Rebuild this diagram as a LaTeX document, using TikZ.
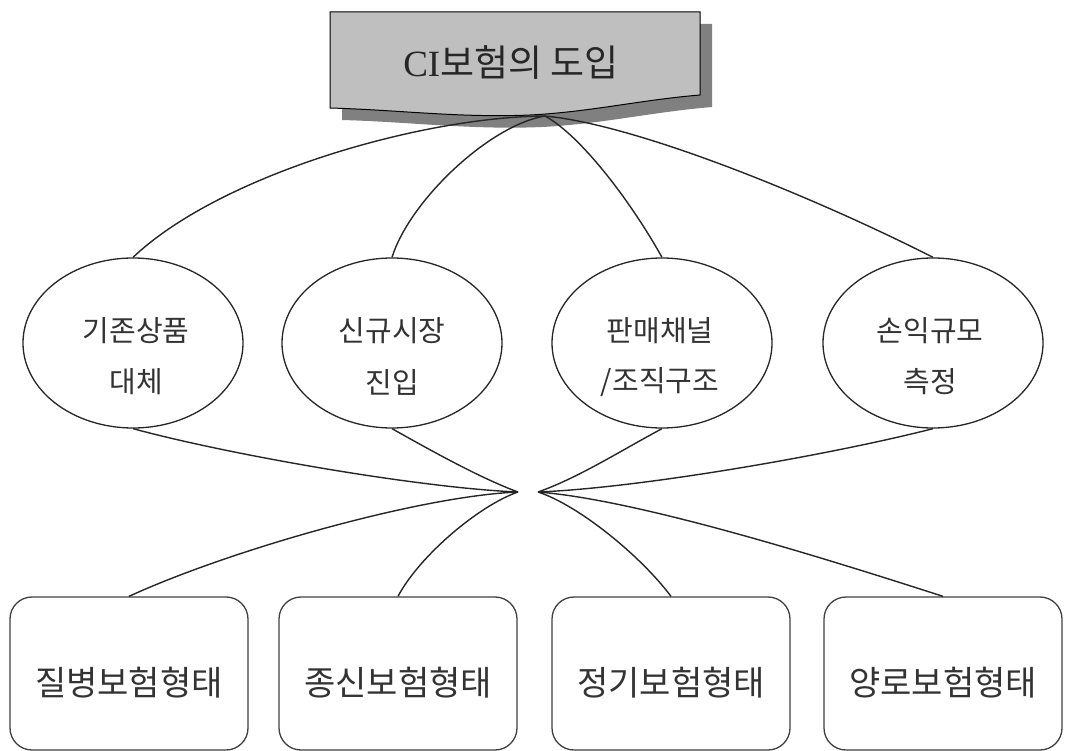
\documentclass[tikz,border=0pt]{standalone}
\usepackage{fontspec}
\setmainfont{Liberation Serif}
\newfontfamily\kr{Noto Sans CJK KR}
\usetikzlibrary{shapes.geometric}
\begin{document}
\begin{tikzpicture}[x=1pt,y=-1pt,
  oval/.style={ellipse, draw=black!85, line width=1.3pt, minimum width=220pt, minimum height=170pt, inner sep=0pt},
  kbox/.style={draw=black!75, line width=1.3pt, rounded corners=22pt, minimum width=238pt, minimum height=153pt, inner sep=0pt},
  etext/.style={font=\kr\fontsize{29}{34}\selectfont, text=black!80, inner sep=0pt},
  btext/.style={font=\kr\fontsize{34}{38}\selectfont, text=black!80, inner sep=0pt},
  link/.style={draw=black!85, line width=1.4pt}]
\useasboundingbox (0,0) rectangle (1069,751);
% banner
\path[fill=black!50] (342,24) -- (712,24) -- (712,107) .. controls (652,112) and (602,124) .. (542,127) .. controls (472,130) and (412,122) .. (342,120) -- cycle;
\path[fill=black!25, draw=black, line width=1pt] (330,12) -- (700,12) -- (700,95) .. controls (640,100) and (590,112) .. (530,115) .. controls (460,118) and (400,110) .. (330,108) -- cycle;
\node[font=\fontsize{37}{41}\selectfont, text=black!85, inner sep=0pt] (title) at (511,63) {CI{\kr 보험의 도입}};
\coordinate (top) at (545,116);
% ellipses
\node[oval] (e1) at (133,343) {};
\node[oval] (e2) at (392,343) {};
\node[oval] (e3) at (662,343) {};
\node[oval] (e4) at (933,343) {};
\node[etext] (t1a) at (136,331) {기존상품};
\node[etext] (t1b) at (136,382) {대체};
\node[etext] (t2a) at (392,331) {신규시장};
\node[etext] (t2b) at (392,382) {진입};
\node[etext] (t3a) at (660,331) {판매채널};
\node[etext] (t3b) at (660,382) {/조직구조};
\node[etext] (t4a) at (930,331) {손익규모};
\node[etext] (t4b) at (930,382) {측정};
% boxes
\node[kbox] (b1) at (129,673.5) {};
\node[kbox] (b2) at (398,673.5) {};
\node[kbox] (b3) at (671,673.5) {};
\node[kbox] (b4) at (943,673.5) {};
\node[btext] (s1) at (129,683) {질병보험형태};
\node[btext] (s2) at (398,683) {종신보험형태};
\node[btext] (s3) at (671,683) {정기보험형태};
\node[btext] (s4) at (943,683) {양로보험형태};
\coordinate (hubL) at (518,492);
\coordinate (hubR) at (538,492);
% connectors top
\draw[link] (top) .. controls (420,117) and (220,175) .. (e1.north);
\draw[link] (top) .. controls (490,125) and (410,200) .. (e2.north);
\draw[link] (top) .. controls (580,135) and (630,200) .. (e3.north);
\draw[link] (top) .. controls (640,125) and (820,200) .. (e4.north);
% connectors middle
\draw[link] (e1.south) .. controls (230,455) and (420,488) .. (hubL);
\draw[link] (e2.south) .. controls (430,450) and (480,478) .. (hubL);
\draw[link] (e3.south) .. controls (622,450) and (578,478) .. (hubR);
\draw[link] (e4.south) .. controls (830,455) and (640,488) .. (hubR);
% connectors bottom
\draw[link] (hubL) .. controls (420,496) and (230,550) .. (b1.north);
\draw[link] (hubL) .. controls (480,505) and (420,555) .. (b2.north);
\draw[link] (hubR) .. controls (578,505) and (640,555) .. (b3.north);
\draw[link] (hubR) .. controls (640,500) and (830,560) .. (b4.north);
\end{tikzpicture}
\end{document}
